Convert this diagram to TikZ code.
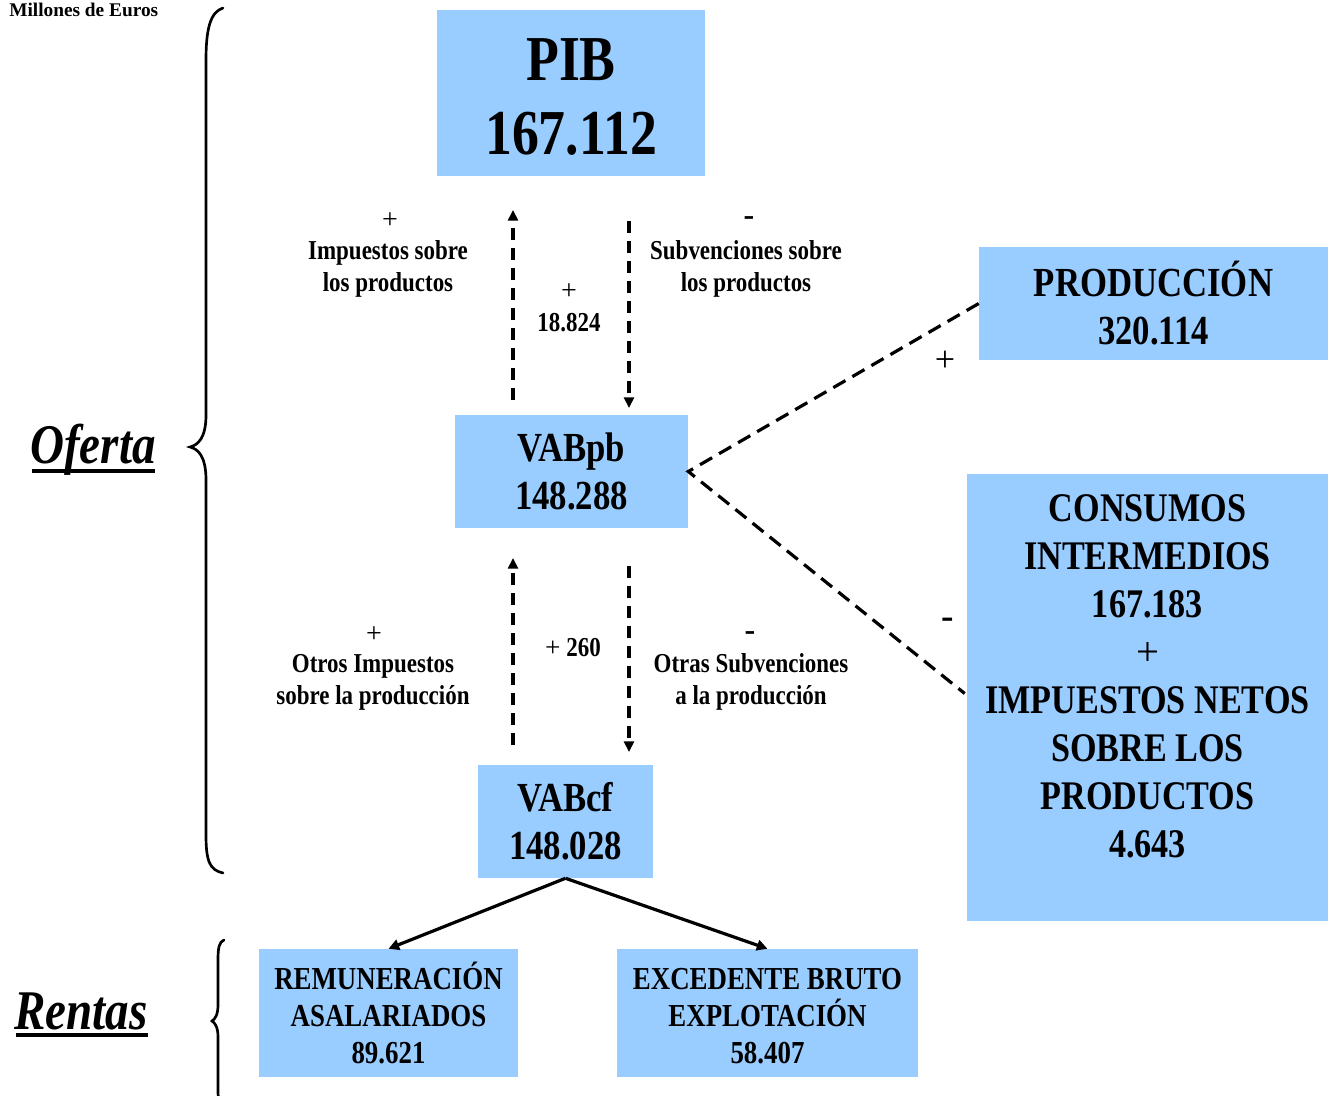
\documentclass[tikz,border=0pt]{standalone}
\usepackage{fontspec}
\setmainfont{Liberation Serif}[FakeStretch=0.84]
\newfontfamily\plainfont{Liberation Serif}
\usetikzlibrary{arrows.meta,calc}
\definecolor{boxblue}{HTML}{99CCFF}
\begin{document}
\begin{tikzpicture}[x=0.75pt,y=-0.75pt,
  box/.style={fill=boxblue,draw=none,inner sep=0pt,align=center,font=\bfseries},
  lbl/.style={inner sep=0pt,align=center,font=\bfseries\fontsize{20.5pt}{24pt}\selectfont},
  sgn/.style={inner sep=0pt,font=\plainfont\fontsize{21pt}{24pt}\selectfont},
  mns/.style={inner sep=0pt,font=\plainfont\bfseries\fontsize{24pt}{24pt}\selectfont},
  dsh/.style={dash pattern=on 9pt off 6pt,line width=2.4pt},
  tip/.style={-{Triangle[length=8pt,width=7.5pt]}},
  brace/.style={line width=2pt,line cap=round}]
\useasboundingbox (0,0) rectangle (1329,1096);

% boxes
\node[box,minimum width=201pt,minimum height=124.5pt] (pib) at (571,93) {};
\node[inner sep=0pt,align=center,font=\bfseries\fontsize{48pt}{55pt}\selectfont] (pibtext) at (571,97) {PIB\\167.112};
\node[box,minimum width=174.75pt,minimum height=84.75pt,font=\bfseries\fontsize{31pt}{35.5pt}\selectfont] (vabpb) at (571.5,471.5) {VABpb\\148.288};
\node[box,minimum width=261.75pt,minimum height=84.75pt,font=\bfseries\fontsize{31pt}{36pt}\selectfont] (prod) at (1153.5,303.5) {PRODUCCIÓN\\320.114};
\node[box,minimum width=270.75pt,minimum height=335.25pt] (cons) at (1147.5,697.5) {};
\node[inner sep=0pt,align=center,font=\bfseries\fontsize{30.5pt}{36pt}\selectfont] (constext) at (1147.5,676)
  {CONSUMOS\\INTERMEDIOS\\167.183\\{\plainfont\mdseries +}\\IMPUESTOS NETOS\\SOBRE LOS\\PRODUCTOS\\4.643};
\node[box,minimum width=131.25pt,minimum height=84.75pt,font=\bfseries\fontsize{31pt}{36pt}\selectfont] (vabcf) at (565.5,821.5) {VABcf\\148.028};
\node[box,minimum width=194.25pt,minimum height=96pt,font=\bfseries\fontsize{24pt}{28pt}\selectfont] (rem) at (388.5,1013) {REMUNERACIÓN\\ASALARIADOS\\89.621};
\node[box,minimum width=225.75pt,minimum height=96pt] (exc) at (767.5,1013) {};
\node[inner sep=0pt,align=center,font=\bfseries\fontsize{24pt}{28pt}\selectfont] (exctext) at (767.5,1016) {EXCEDENTE BRUTO\\EXPLOTACIÓN\\58.407};

% title and side labels
\node[inner sep=0pt,anchor=north west,font=\plainfont\bfseries\fontsize{14.5pt}{16pt}\selectfont] (mill) at (9,3) {Millones de Euros};
\node[inner sep=0pt,font=\bfseries\itshape\fontsize{42pt}{46pt}\selectfont] (of) at (93,450) {Oferta};
\draw[line width=2.5pt] (32,471) -- (155,471);
\node[inner sep=0pt,font=\bfseries\itshape\fontsize{42pt}{46pt}\selectfont] (rent) at (81,1011) {Rentas};
\draw[line width=2.5pt] (16,1035) -- (148,1035);

% braces
\draw[brace] (223,8) .. controls (210,12) and (206,30) .. (206,60) -- (206,415)
  .. controls (206,438) and (198,445) .. (190,447)
  .. controls (198,449) and (206,456) .. (206,480) -- (206,835)
  .. controls (206,862) and (210,870) .. (223,873);
\draw[brace] (224,940) .. controls (219,942) and (218,948) .. (218,960) -- (218,1005)
  .. controls (218,1015) and (215,1019) .. (212,1021)
  .. controls (215,1023) and (218,1027) .. (218,1037) -- (218,1090)
  .. controls (218,1094) and (218,1096) .. (219,1100);

% upper arrows
\coordinate (u1s) at (513,400); \coordinate (u1e) at (513,210);
\coordinate (d1s) at (629,221); \coordinate (d1e) at (629,408);
\draw[dsh,tip] (u1s) -- (u1e);
\draw[dsh,tip] (d1s) -- (d1e);
\node[sgn] (p1) at (390,221) {+};
\node[lbl] (l1) at (388,269) {Impuestos sobre\\los productos};
\node[sgn] (p2) at (569,292) {+};
\node[lbl] (l2) at (569,323) {18.824};
\node[mns] (m1) at (749,221) {-};
\node[lbl] (l3) at (746,269) {Subvenciones sobre\\los productos};

% lower arrows
\coordinate (u2s) at (513,745); \coordinate (u2e) at (513,558);
\coordinate (d2s) at (629,566); \coordinate (d2e) at (629,752);
\draw[dsh,tip] (u2s) -- (u2e);
\draw[dsh,tip] (d2s) -- (d2e);
\node[sgn] (p3) at (374,635) {+};
\node[lbl] (l4) at (373,682) {Otros Impuestos\\sobre la producción};
\node[lbl] (l5) at (573,648) {{\plainfont\mdseries +} 260};
\node[mns] (m2) at (750,636) {-};
\node[lbl] (l6) at (751,682) {Otras Subvenciones\\a la producción};

% diagonal dashed lines
\draw[line width=2.4pt,dash pattern=on 10.5pt off 6pt] (prod.west) -- (vabpb.east) -- ($(cons.west)+(-2,-4)$);
\node[sgn,font=\plainfont\fontsize{27pt}{27pt}\selectfont] (p4) at (945,361) {+};
\node[mns,font=\plainfont\bfseries\fontsize{28pt}{28pt}\selectfont] (m3) at (948,623) {-};

% solid arrows
\draw[line width=2.4pt,-{Triangle[length=8pt,width=8pt]}] (vabcf.south) -- (rem.north);
\draw[line width=2.4pt,-{Triangle[length=8pt,width=8pt]}] (vabcf.south) -- (exc.north);
\end{tikzpicture}
\end{document}
